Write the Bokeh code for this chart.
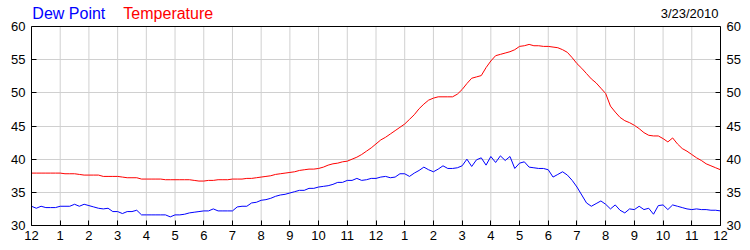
from bokeh.plotting import figure
from bokeh.models import Range1d, LinearAxis, FixedTicker, Label
from bokeh.embed import file_html
from bokeh.resources import INLINE

# time of day in hours, one reading every 10 minutes (0 = midnight, 24 = next midnight)
hours = [k / 6 for k in range(145)]

temperature = [
    37.9, 37.9, 37.9, 37.9, 37.9, 37.9, 37.9, 37.8, 37.8, 37.8, 37.7, 37.6,
    37.6, 37.6, 37.6, 37.4, 37.4, 37.4, 37.4, 37.3, 37.2, 37.2, 37.2, 37.0,
    37.0, 37.0, 37.0, 37.0, 36.9, 36.9, 36.9, 36.9, 36.9, 36.9, 36.8, 36.7,
    36.7, 36.8, 36.8, 36.9, 36.9, 36.9, 37.0, 37.0, 37.0, 37.1, 37.1, 37.2,
    37.3, 37.4, 37.5, 37.7, 37.8, 37.9, 38.0, 38.1, 38.3, 38.4, 38.5, 38.5,
    38.6, 38.8, 39.1, 39.3, 39.4, 39.6, 39.7, 40.0, 40.3, 40.7, 41.2, 41.7,
    42.3, 42.9, 43.3, 43.8, 44.3, 44.8, 45.3, 46.0, 46.7, 47.6, 48.3, 48.9,
    49.2, 49.4, 49.4, 49.4, 49.4, 49.8, 50.5, 51.4, 52.2, 52.4, 52.6, 53.8,
    54.8, 55.6, 55.8, 56.0, 56.2, 56.5, 57.0, 57.1, 57.3, 57.1, 57.1, 57.0,
    57.0, 56.9, 56.8, 56.5, 56.1, 55.3, 54.4, 53.7, 52.9, 52.1, 51.5, 50.7,
    49.9, 48.0, 47.1, 46.3, 45.8, 45.5, 45.1, 44.6, 44.0, 43.6, 43.5, 43.5,
    43.1, 42.6, 43.2, 42.3, 41.6, 41.2, 40.7, 40.2, 39.8, 39.3, 39.0, 38.7,
    38.4,
]

dew_point = [
    32.9, 32.6, 32.9, 32.7, 32.7, 32.7, 32.9, 32.9, 32.9, 33.2, 32.9, 33.2,
    33.0, 32.8, 32.6, 32.5, 32.6, 32.1, 32.1, 31.8, 32.1, 32.1, 32.3, 31.6,
    31.6, 31.6, 31.6, 31.6, 31.6, 31.3, 31.6, 31.6, 31.7, 31.9, 32.0, 32.1,
    32.2, 32.2, 32.5, 32.2, 32.2, 32.2, 32.2, 32.8, 32.9, 32.9, 33.4, 33.5,
    33.8, 33.9, 34.1, 34.4, 34.6, 34.7, 34.9, 35.1, 35.3, 35.3, 35.6, 35.6,
    35.8, 35.9, 36.0, 36.2, 36.5, 36.5, 36.8, 36.8, 37.1, 36.8, 36.9, 37.1,
    37.1, 37.3, 37.4, 37.2, 37.3, 37.8, 37.8, 37.4, 37.9, 38.3, 38.8, 38.4,
    38.1, 38.5, 39.0, 38.6, 38.6, 38.7, 39.0, 40.0, 38.9, 39.9, 40.2, 39.1,
    40.4, 39.5, 40.5, 39.8, 40.4, 38.6, 39.4, 39.6, 38.8, 38.7, 38.6, 38.6,
    38.4, 37.3, 37.7, 38.1, 37.6, 36.8, 35.8, 34.6, 33.4, 32.9, 33.3, 33.7,
    33.2, 32.5, 33.1, 32.3, 31.9, 32.5, 32.4, 32.9, 32.4, 32.6, 31.7, 33.0,
    33.1, 32.4, 33.1, 32.9, 32.7, 32.5, 32.4, 32.5, 32.4, 32.4, 32.3, 32.3,
    32.2,
]

x_ticks = list(range(25))
x_tick_labels = ["12", "1", "2", "3", "4", "5", "6", "7", "8", "9", "10", "11",
                 "12", "1", "2", "3", "4", "5", "6", "7", "8", "9", "10", "11", "12"]
y_ticks = [30, 35, 40, 45, 50, 55, 60]

legend_items = ["Dew Point", "Temperature"]
date_text = "3/23/2010"

FONT = "Liberation Sans"

# layout (pixels): plot box from y=26 to y=225; header strip above it lives in the same frame
Y0, Y1 = y_ticks[0], y_ticks[-1]
BOX_TOP_PX, BOX_BOTTOM_PX = 26, 225
per_px = (Y1 - Y0) / (BOX_BOTTOM_PX - BOX_TOP_PX)
y_top = Y0 + BOX_BOTTOM_PX * per_px

p = figure(width=750, height=250, output_backend="svg", toolbar_location=None,
           title=None,
           x_range=Range1d(x_ticks[0], x_ticks[-1]), y_range=Range1d(Y0, y_top),
           min_border_left=31, min_border_right=30, min_border_top=0,
           min_border_bottom=25)
p.background_fill_color = "white"
p.border_fill_color = "white"
p.outline_line_color = None

def style_axis(ax, standoff):
    ax.axis_line_color = "black"
    ax.major_tick_line_color = "black"
    ax.major_tick_in = 5
    ax.major_tick_out = 0
    ax.minor_tick_line_color = None
    ax.major_label_text_font = FONT
    ax.major_label_text_font_size = "13px"
    ax.major_label_text_color = "black"
    ax.major_label_standoff = standoff

p.xaxis.ticker = FixedTicker(ticks=x_ticks)
p.xaxis.major_label_overrides = {t: l for t, l in zip(x_ticks, x_tick_labels)}
style_axis(p.xaxis[0], 5)

p.yaxis.ticker = FixedTicker(ticks=y_ticks)
p.yaxis.bounds = (Y0, Y1)
style_axis(p.yaxis[0], 6)

right = LinearAxis(ticker=FixedTicker(ticks=y_ticks), bounds=(Y0, Y1))
style_axis(right, 6)
p.add_layout(right, "right")

GRID = "#d0d0d0"
p.xgrid.visible = False
p.ygrid.ticker = FixedTicker(ticks=y_ticks[1:-1])
p.ygrid.grid_line_color = GRID

# vertical grid lines, limited to the plot box
p.segment(x0=x_ticks[1:-1], y0=[Y0] * (len(x_ticks) - 2),
          x1=x_ticks[1:-1], y1=[Y1] * (len(x_ticks) - 2),
          line_color=GRID, line_width=1)

p.line(hours, temperature, line_color="#ff0000", line_width=1)
p.line(hours, dew_point, line_color="#0000ff", line_width=1)

# top edge of the plot box
p.segment(x0=[x_ticks[0]], y0=[Y1], x1=[x_ticks[-1]], y1=[Y1],
          line_color="black", line_width=1)

# header: coloured series names and the date
y_head = Y1 + 13 * per_px
p.add_layout(Label(x=0.03, y=y_head, text=legend_items[0], text_color="#0000ff",
                   text_font=FONT, text_font_size="16px", text_baseline="middle"))
p.add_layout(Label(x=3.2, y=y_head, text=legend_items[1], text_color="#ff0000",
                   text_font=FONT, text_font_size="16px", text_baseline="middle"))
p.add_layout(Label(x=23.93, y=Y1 + 13.5 * per_px, text=date_text, text_color="black",
                   text_font=FONT, text_font_size="13px", text_baseline="middle",
                   text_align="right"))

open("out.html", "w").write(file_html(p, INLINE))
